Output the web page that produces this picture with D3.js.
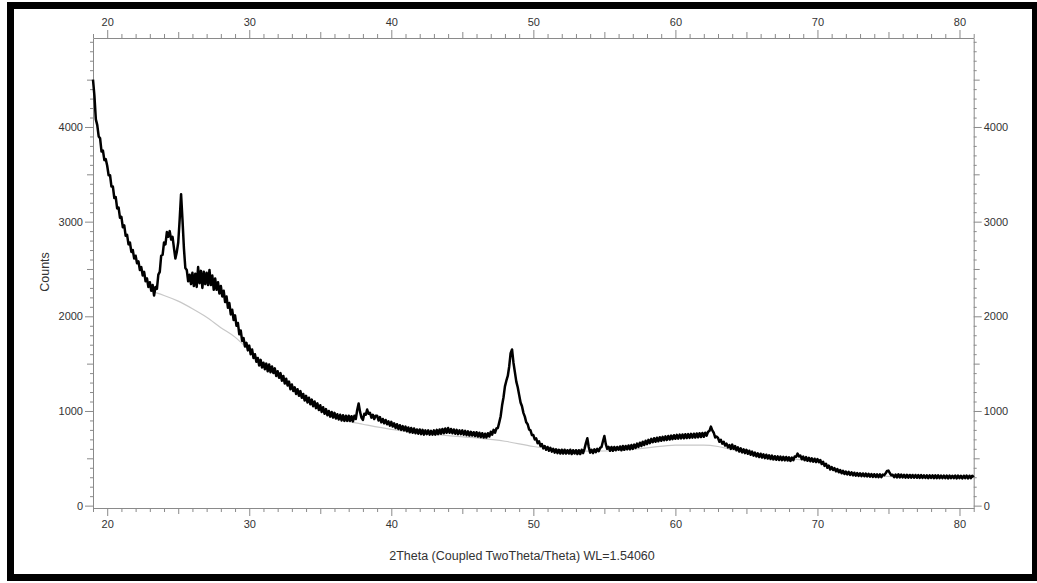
<!DOCTYPE html>
<html>
<head>
<meta charset="utf-8">
<script src="https://cdn.jsdelivr.net/npm/d3@7"></script>
<style>
  html, body { margin: 0; padding: 0; background: #fff; }
  svg { display: block; }
  text { font-family: "Liberation Sans", Arial, sans-serif; }
</style>
</head>
<body>
<svg id="chart" width="1037" height="583"></svg>
<script>
// ---------------- DATA ----------------
const xStart = 19.0;      // first 2Theta value of the scan
const xStep = 0.1;        // scan step (degrees)
// Counts (with the visible noise), one row per degree: x.0 ... x.9
const counts = [
  4500, 4330, 4080, 4020, 3900, 3880, 3740, 3750, 3650, 3660, // 19
  3590, 3490, 3490, 3370, 3370, 3250, 3260, 3140, 3150, 3040, // 20
  3050, 2940, 2960, 2850, 2860, 2760, 2780, 2680, 2700, 2610, // 21
  2640, 2560, 2580, 2490, 2520, 2430, 2470, 2370, 2400, 2310, // 22
  2360, 2270, 2330, 2220, 2310, 2290, 2440, 2470, 2640, 2650, // 23
  2780, 2760, 2890, 2840, 2900, 2810, 2840, 2720, 2610, 2680, // 24
  2780, 3020, 3290, 3020, 2720, 2510, 2490, 2370, 2440, 2340, // 25
  2460, 2320, 2450, 2310, 2520, 2350, 2480, 2300, 2470, 2340, // 26
  2460, 2330, 2490, 2330, 2430, 2280, 2400, 2280, 2360, 2240, // 27
  2320, 2210, 2270, 2150, 2210, 2090, 2140, 2020, 2070, 1960, // 28
  2010, 1900, 1930, 1810, 1850, 1740, 1770, 1680, 1720, 1640, // 29
  1690, 1600, 1650, 1560, 1600, 1520, 1560, 1480, 1540, 1460, // 30
  1510, 1440, 1500, 1420, 1490, 1410, 1470, 1400, 1450, 1370, // 31
  1420, 1350, 1400, 1320, 1370, 1290, 1340, 1270, 1310, 1230, // 32
  1280, 1210, 1250, 1180, 1230, 1160, 1210, 1140, 1180, 1110, // 33
  1160, 1090, 1140, 1070, 1120, 1050, 1100, 1030, 1080, 1010, // 34
  1060,  990, 1040,  970, 1020,  955, 1000,  940,  990,  930, // 35
   980,  920,  965,  910,  960,  900,  955,  895,  950,  895, // 36
   950,  895,  945,  890,  950,  915, 1010, 1080,  990,  930, // 37
   905,  970,  960, 1015,  970,  980,  930,  960,  915,  950, // 38
   950,  900,  935,  880,  915,  870,  905,  860,  890,  845, // 39
   885,  835,  870,  820,  860,  810,  850,  800,  840,  795, // 40
   835,  785,  825,  775,  820,  770,  815,  765,  805,  760, // 41
   805,  755,  800,  750,  795,  755,  795,  750,  790,  750, // 42
   795,  750,  800,  755,  805,  760,  810,  765,  815,  770, // 43
   820,  770,  810,  765,  805,  760,  800,  755,  795,  755, // 44
   795,  750,  790,  745,  785,  740,  780,  740,  775,  735, // 45
   775,  730,  770,  725,  765,  720,  760,  720,  765,  730, // 46
   780,  750,  800,  770,  815,  820,  880,  945, 1060, 1145, // 47
  1260, 1320, 1370, 1470, 1610, 1650, 1510, 1410, 1310, 1250, // 48
  1170, 1090, 1050,  980,  940,  880,  860,  805,  795,  745, // 49
   745,  700,  710,  660,  680,  630,  650,  605,  630,  590, // 50
   620,  580,  610,  570,  600,  560,  595,  555,  590,  550, // 51
   590,  550,  590,  550,  585,  550,  590,  545,  585,  550, // 52
   585,  545,  585,  545,  590,  555,  600,  660,  712,  620, // 53
   560,  590,  555,  595,  565,  600,  575,  610,  620,  680, // 54
   736,  650,  600,  620,  580,  620,  580,  620,  585,  620, // 55
   590,  625,  585,  630,  590,  630,  595,  635,  595,  640, // 56
   600,  645,  610,  655,  620,  665,  630,  675,  640,  685, // 57
   650,  695,  660,  705,  670,  712,  675,  718,  680,  722, // 58
   685,  727,  690,  732,  694,  736,  698,  740,  702,  744, // 59
   706,  748,  708,  750,  710,  752,  712,  754,  714,  756, // 60
   716,  758,  718,  760,  720,  762,  722,  765,  725,  768, // 61
   728,  770,  740,  780,  790,  835,  795,  770,  720,  730, // 62
   715,  675,  695,  655,  675,  635,  655,  615,  640,  600, // 63
   645,  600,  630,  585,  615,  572,  605,  562,  595,  555, // 64
   590,  548,  580,  538,  570,  528,  560,  520,  552,  514, // 65
   548,  508,  542,  502,  538,  498,  532,  493,  528,  488, // 66
   522,  485,  520,  482,  518,  480,  516,  478,  514,  476, // 67
   510,  472,  508,  480,  520,  515,  550,  520,  528,  490, // 68
   518,  480,  512,  474,  505,  468,  500,  464,  496,  460, // 69
   492,  458,  482,  440,  462,  420,  442,  400,  422,  382, // 70
   408,  376,  396,  362,  386,  352,  376,  342,  368,  334, // 71
   360,  330,  356,  324,  352,  320,  348,  316,  344,  314, // 72
   342,  312,  340,  310,  338,  308,  336,  306,  334,  304, // 73
   332,  302,  330,  300,  330,  300,  328,  322,  342,  366, // 74
   370,  342,  320,  326,  300,  328,  298,  330,  298,  328, // 75
   298,  326,  296,  326,  296,  324,  296,  324,  294,  324, // 76
   294,  322,  292,  322,  292,  320,  292,  320,  290,  320, // 77
   292,  320,  290,  320,  290,  320,  290,  318,  290,  318, // 78
   290,  318,  288,  318,  290,  316,  290,  318,  288,  318, // 79
   290,  316,  288,  316,  290,  318,  288,  316,  290,  316, // 80
   300                                                         // 81
];
// Background curve (light grey)
const bgTheta  = [23.4, 24, 25, 26, 27, 28, 29, 30, 31, 32, 33, 34, 35, 36, 37, 38, 40, 42, 44, 46, 48, 50, 52, 54, 56, 58, 60, 62, 63, 64, 66, 68, 70, 71, 72, 74, 76, 81];
const bgCounts = [2250, 2220, 2160, 2080, 1990, 1880, 1780, 1640, 1500, 1370, 1230, 1110, 1010, 940, 890, 860, 805, 770, 740, 715, 680, 625, 590, 575, 585, 610, 640, 640, 625, 590, 530, 495, 470, 410, 355, 318, 305, 300];
// Axis ticks
const xTicks = [20, 30, 40, 50, 60, 70, 80];
const yTicks = [0, 1000, 2000, 3000, 4000];
const xTitle = "2Theta (Coupled TwoTheta/Theta) WL=1.54060";
const yTitle = "Counts";

// ---------------- CHART ----------------
const svg = d3.select("#chart");
const plot = { left: 93, right: 973.7, top: 38, bottom: 508 };

// black frame
svg.append("rect")
  .attr("x", 10.5).attr("y", 5.5)
  .attr("width", 1025).attr("height", 572)
  .attr("fill", "#fff").attr("stroke", "#000").attr("stroke-width", 7);

const x = d3.scaleLinear().domain([19, 81]).range([plot.left, plot.right]);
const y = d3.scaleLinear().domain([-25, 4940]).range([plot.bottom, plot.top]);

const axisColor = "#8a8a8a";
const labelColor = "#333";

function styleAxis(g) {
  g.select(".domain").attr("stroke", axisColor).attr("stroke-width", 1);
  g.selectAll(".tick line").attr("stroke", axisColor).attr("stroke-width", 1);
  g.selectAll(".tick text").attr("fill", labelColor).attr("font-size", 11)
    .attr("font-family", "'Liberation Sans', Arial, sans-serif");
}

const xMinor = d3.range(19, 82, 1).filter(v => v % 5 !== 0);
const xMid = d3.range(25, 81, 10);
const yMinor = d3.range(0, 4901, 100).filter(v => v % 500 !== 0);
const yMid = d3.range(500, 4901, 1000);

// minor/medium tick axes (no labels)
function tickLayer(axisFn, scale, vals, len, transform) {
  const g = svg.append("g").attr("transform", transform)
    .call(axisFn(scale).tickValues(vals).tickSize(len).tickFormat(""));
  g.select(".domain").remove();
  g.selectAll(".tick line").attr("stroke", axisColor);
}
tickLayer(d3.axisBottom, x, xMinor, 4, `translate(0,${plot.bottom})`);
tickLayer(d3.axisBottom, x, xMid, 6, `translate(0,${plot.bottom})`);
tickLayer(d3.axisTop, x, xMinor, 4, `translate(0,${plot.top})`);
tickLayer(d3.axisTop, x, xMid, 6, `translate(0,${plot.top})`);
tickLayer(d3.axisLeft, y, yMinor, 3, `translate(${plot.left},0)`);
tickLayer(d3.axisLeft, y, yMid, 6, `translate(${plot.left},0)`);
tickLayer(d3.axisRight, y, yMinor, 3, `translate(${plot.right},0)`);
tickLayer(d3.axisRight, y, yMid, 6, `translate(${plot.right},0)`);

// major axes with labels
svg.append("g").attr("transform", `translate(0,${plot.bottom})`)
  .call(d3.axisBottom(x).tickValues(xTicks).tickSize(8).tickPadding(4).tickSizeOuter(0))
  .call(styleAxis);
svg.append("g").attr("transform", `translate(0,${plot.top})`)
  .call(d3.axisTop(x).tickValues(xTicks).tickSize(8).tickPadding(4).tickSizeOuter(0))
  .call(styleAxis);
svg.append("g").attr("transform", `translate(${plot.left},0)`)
  .call(d3.axisLeft(y).tickValues(yTicks).tickSize(8).tickPadding(2).tickSizeOuter(0).tickFormat(d3.format("d")))
  .call(styleAxis);
svg.append("g").attr("transform", `translate(${plot.right},0)`)
  .call(d3.axisRight(y).tickValues(yTicks).tickSize(8).tickPadding(2).tickSizeOuter(0).tickFormat(d3.format("d")))
  .call(styleAxis);

// background curve
const bg = bgTheta.map((t, i) => [t, bgCounts[i]]);
svg.append("path")
  .datum(bg)
  .attr("fill", "none")
  .attr("stroke", "#c8c8c8")
  .attr("stroke-width", 1.2)
  .attr("d", d3.line().x(d => x(d[0])).y(d => y(d[1])).curve(d3.curveMonotoneX));

// measured pattern
const data = counts.map((c, i) => [xStart + i * xStep, c]);
svg.append("path")
  .datum(data)
  .attr("fill", "none")
  .attr("stroke", "#000")
  .attr("stroke-width", 2.5)
  .attr("stroke-linejoin", "round")
  .attr("d", d3.line().x(d => x(d[0])).y(d => y(d[1])));

// titles
svg.append("text")
  .attr("x", 522).attr("y", 560)
  .attr("text-anchor", "middle")
  .attr("font-size", 12.5).attr("fill", labelColor)
  .text(xTitle);
svg.append("text")
  .attr("transform", "translate(49,272) rotate(-90)")
  .attr("text-anchor", "middle")
  .attr("font-size", 12.5).attr("fill", labelColor)
  .text(yTitle);
</script>
</body>
</html>
